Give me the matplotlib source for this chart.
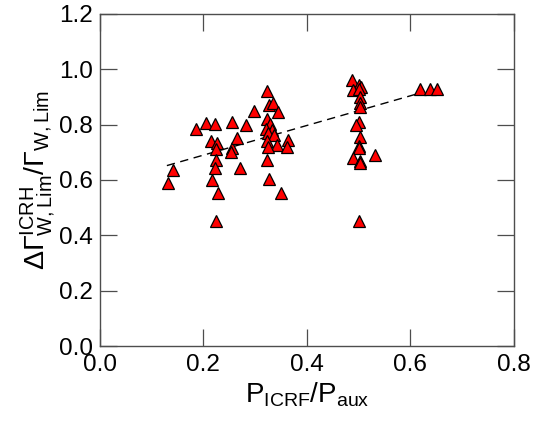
import matplotlib
matplotlib.use('Agg')
import matplotlib.pyplot as plt

plt.rcParams['font.family'] = ['Liberation Sans', 'DejaVu Sans']
plt.rcParams['mathtext.fontset'] = 'custom'
plt.rcParams['mathtext.rm'] = 'Liberation Sans'
plt.rcParams['mathtext.it'] = 'Liberation Sans'

# P_ICRF / P_aux
p_ratio = [0.133, 0.142, 0.187, 0.205, 0.223, 0.215, 0.227, 0.224, 0.224, 0.223,
           0.217, 0.228, 0.224, 0.255, 0.256, 0.254, 0.265, 0.271, 0.283, 0.298,
           0.323, 0.328, 0.334, 0.345, 0.324, 0.329, 0.321, 0.332, 0.326, 0.336,
           0.324, 0.342, 0.326, 0.323, 0.328, 0.350, 0.363, 0.361,
           0.487, 0.501, 0.504, 0.490, 0.500, 0.503, 0.502, 0.502, 0.500, 0.495,
           0.502, 0.500, 0.500, 0.489, 0.503, 0.502, 0.532, 0.500,
           0.619, 0.638, 0.651]
# delta Gamma^ICRH_W,Lim / Gamma_W,Lim
gamma_ratio = [0.590, 0.635, 0.785, 0.805, 0.803, 0.740, 0.735, 0.712, 0.672, 0.645,
               0.600, 0.552, 0.450, 0.808, 0.715, 0.700, 0.752, 0.643, 0.800, 0.850,
               0.920, 0.872, 0.878, 0.845, 0.820, 0.803, 0.785, 0.780, 0.768, 0.762,
               0.740, 0.727, 0.720, 0.672, 0.605, 0.553, 0.745, 0.720,
               0.962, 0.945, 0.935, 0.925, 0.928, 0.900, 0.880, 0.862, 0.810, 0.798,
               0.755, 0.722, 0.716, 0.680, 0.668, 0.660, 0.692, 0.450,
               0.930, 0.930, 0.930]

# linear trend (end points)
fit_x = [0.13, 0.62]
fit_y = [0.652, 0.915]

x_ticks = [0.0, 0.2, 0.4, 0.6, 0.8]
y_ticks = [0.0, 0.2, 0.4, 0.6, 0.8, 1.0, 1.2]

fig = plt.figure(figsize=(5.33, 4.23), dpi=100)
ax = fig.add_axes([0.1867, 0.182, 0.7777, 0.785])

ax.plot(fit_x, fit_y, color='black', lw=1.0, ls=(0, (6, 4)))
ax.plot(p_ratio, gamma_ratio, ls='none', marker='^', markersize=8.5,
        markerfacecolor='#ff0000', markeredgecolor='black', markeredgewidth=0.9)

ax.set_xlim(0.0, 0.8)
ax.set_ylim(0.0, 1.2)
ax.set_xticks(x_ticks)
ax.set_yticks(y_ticks)
ax.set_xticklabels([f'{v:.1f}' for v in x_ticks])
ax.set_yticklabels([f'{v:.1f}' for v in y_ticks])
ax.tick_params(direction='in', length=12, width=0.9, top=True, right=True,
               labelsize=17.5, color='0.3', pad=6)
ax.tick_params(axis='y', pad=5)
for s in ax.spines.values():
    s.set_color('0.3')
    s.set_linewidth(1.0)

ax.set_xlabel(r'$\mathrm{P_{ICRF}/P_{aux}}$', fontsize=20, labelpad=3)
ax.set_ylabel(r'$\Delta\Gamma^{\mathrm{ICRH}}_{\mathrm{W,Lim}}/\Gamma_{\mathrm{W,Lim}}$',
              fontsize=20.5, labelpad=1)

fig.savefig('out.png', dpi=100)
